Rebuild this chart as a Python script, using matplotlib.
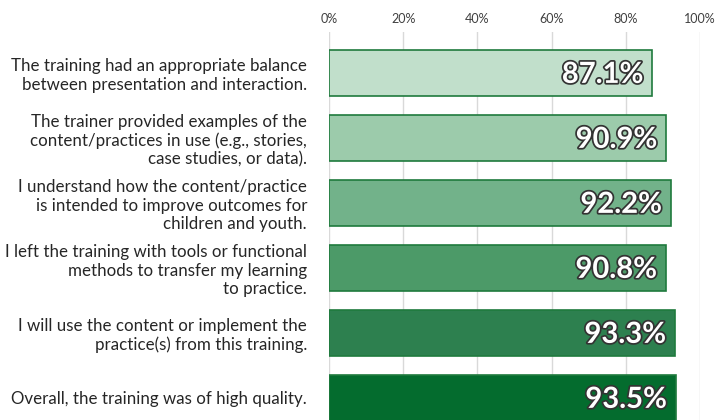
import matplotlib.pyplot as plt
import matplotlib.patheffects as pe
from matplotlib.ticker import PercentFormatter

statements = [
    "The training had an appropriate balance\nbetween presentation and interaction.",
    "The trainer provided examples of the\ncontent/practices in use (e.g., stories,\ncase studies, or data).",
    "I understand how the content/practice\nis intended to improve outcomes for\nchildren and youth.",
    "I left the training with tools or functional\nmethods to transfer my learning\nto practice.",
    "I will use the content or implement the\npractice(s) from this training.",
    "Overall, the training was of high quality.",
]
values = [87.1, 90.9, 92.2, 90.8, 93.3, 93.5]
colors = ["#c1dfcb", "#9ccbab", "#72b28a", "#4c9a68", "#2d804f", "#046c2e"]

plt.rcParams['font.family'] = ['Lato', 'DejaVu Sans']

fig = plt.figure(figsize=(7.17, 4.2), dpi=100)
ax = fig.add_axes([329 / 717, 0, (700 - 329) / 717, (420 - 32) / 420])

y = list(range(len(values)))
ax.barh(y, values, height=0.71, color=colors, edgecolor="#1f7a3d", linewidth=1.2, zorder=3)

for i, v in enumerate(values):
    ax.text(v - 2.4, i + 0.03, f"{v:.1f}%", ha="right", va="center", fontsize=21,
            fontweight="bold", color="white", zorder=4,
            path_effects=[pe.withStroke(linewidth=2.5, foreground="#333333")])

ax.set_xlim(0, 100)
ax.set_ylim(5.34, -0.63)
ax.set_xticks([0, 20, 40, 60, 80, 100])
ax.xaxis.set_major_formatter(PercentFormatter(decimals=0))
ax.xaxis.tick_top()
ax.tick_params(axis="x", length=0, labelsize=9, labelcolor="#404040", pad=5)
ax.set_yticks(y)
ax.set_yticklabels(statements, fontsize=12.2, color="#262626", linespacing=1.2)
ax.tick_params(axis="y", length=0, pad=15.8)
for s in ax.spines.values():
    s.set_visible(False)
ax.grid(axis="x", color="#d9d9d9", linewidth=1, zorder=0)

plt.savefig("out.png", dpi=100)
